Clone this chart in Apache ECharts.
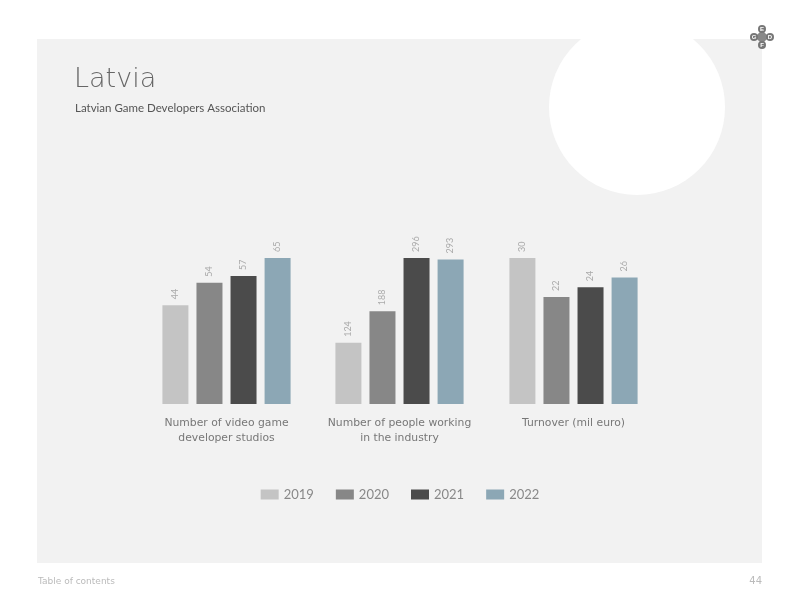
<!DOCTYPE html>
<html>
<head>
<meta charset="utf-8">
<script src="https://cdn.jsdelivr.net/npm/echarts@6/dist/echarts.min.js"></script>
<style>
  html, body { margin: 0; padding: 0; background: #fff; }
  #main { width: 800px; height: 600px; }
</style>
</head>
<body>
<div id="main"></div>
<script>
// data
const groups = ['Number of video game\ndeveloper studios', 'Number of people working\nin the industry', 'Turnover (mil euro)']
const years = ['2019', '2020', '2021', '2022']
const y2019 = [44, 124, 30]
const y2020 = [54, 188, 22]
const y2021 = [57, 296, 24]
const y2022 = [65, 293, 26]
const yearValues = [y2019, y2020, y2021, y2022]
const colors = ['#c4c4c4', '#878787', '#4b4b4b', '#8ca7b5']

const chart = echarts.init(document.getElementById('main'))
const font = 'Lato, "DejaVu Sans", sans-serif'
const wide = '"DejaVu Sans", sans-serif'

// each group is scaled to its own max
const groupCenters = [226.5, 399.5, 573.5]
const grids = [], xAxes = [], yAxes = [], series = []
groups.forEach((g, gi) => {
    grids.push({ left: groupCenters[gi] - 65, width: 130, top: 258, height: 146 })
    xAxes.push({
        type: 'category',
        gridIndex: gi,
        data: [g],
        axisLine: { show: false },
        axisTick: { show: false },
        axisLabel: { color: '#777', fontSize: 10.8, lineHeight: 15, margin: 12, fontFamily: wide, interval: 0 }
    })
    yAxes.push({
        type: 'value',
        gridIndex: gi,
        min: 0,
        max: Math.max(...yearValues.map(v => v[gi])),
        show: false
    })
    years.forEach((y, yi) => {
        series.push({
            name: y,
            type: 'bar',
            xAxisIndex: gi,
            yAxisIndex: gi,
            barWidth: 26,
            barGap: '31%',
            barCategoryGap: '0%',
            itemStyle: { color: colors[yi] },
            label: {
                show: true,
                position: 'top',
                rotate: 90,
                align: 'left',
                verticalAlign: 'middle',
                distance: 6,
                color: '#aaa',
                fontSize: 9,
                fontFamily: font
            },
            data: [yearValues[yi][gi]]
        })
    })
})

var option = {
    color: colors,
    animation: false,
    graphic: [
        { type: 'rect', shape: { x: 37, y: 39, width: 725, height: 524 }, style: { fill: '#f2f2f2' }, z: -10 },
        { type: 'circle', shape: { cx: 637, cy: 107, r: 88 }, style: { fill: '#fff' }, z: -9 },
        { type: 'text', left: 74, top: 66, style: { text: 'Latvia', fill: '#666', fontSize: 27, fontFamily: wide, fontWeight: 200 } },
        { type: 'text', left: 75, top: 102, style: { text: 'Latvian Game Developers Association', fill: '#555', fontSize: 11.5, fontFamily: font } },
        { type: 'text', left: 38, top: 577, style: { text: 'Table of contents', fill: '#bbb', fontSize: 9, fontFamily: wide } },
        { type: 'text', right: 38, top: 576, style: { text: '44', fill: '#bbb', fontSize: 10, fontFamily: wide } },
        // logo
        { type: 'rect', x: 762, y: 37, rotation: Math.PI / 4, shape: { x: -5, y: -5, width: 10, height: 10 }, style: { fill: '#888' } },
        { type: 'circle', shape: { cx: 762, cy: 29, r: 4 }, style: { fill: '#777' } },
        { type: 'circle', shape: { cx: 754, cy: 37, r: 4 }, style: { fill: '#777' } },
        { type: 'circle', shape: { cx: 770, cy: 37, r: 4 }, style: { fill: '#777' } },
        { type: 'circle', shape: { cx: 762, cy: 45, r: 4 }, style: { fill: '#777' } },
        { type: 'text', x: 762, y: 29, style: { text: 'E', fill: '#fff', fontSize: 6, fontWeight: 'bold', align: 'center', verticalAlign: 'middle' } },
        { type: 'text', x: 754, y: 37, style: { text: 'G', fill: '#fff', fontSize: 6, fontWeight: 'bold', align: 'center', verticalAlign: 'middle' } },
        { type: 'text', x: 770, y: 37, style: { text: 'D', fill: '#fff', fontSize: 6, fontWeight: 'bold', align: 'center', verticalAlign: 'middle' } },
        { type: 'text', x: 762, y: 45, style: { text: 'F', fill: '#fff', fontSize: 6, fontWeight: 'bold', align: 'center', verticalAlign: 'middle' } }
    ],
    legend: {
        data: years,
        left: 'center',
        top: 483,
        itemWidth: 18,
        itemHeight: 10,
        itemGap: 22,
        icon: 'rect',
        textStyle: { color: '#888', fontSize: 13, fontFamily: font }
    },
    grid: grids,
    xAxis: xAxes,
    yAxis: yAxes,
    series: series
}
chart.setOption(option)
</script>
</body>
</html>
